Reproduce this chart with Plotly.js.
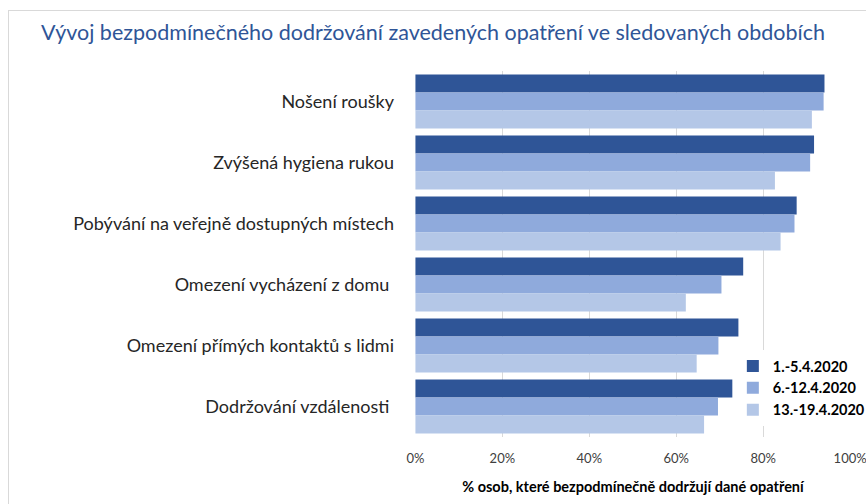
<!DOCTYPE html>
<html><head><meta charset="utf-8">
<script src="https://cdn.plot.ly/plotly-3.0.1.min.js"></script>
<style>
html,body{margin:0;padding:0;background:#fff;}
#wrap{position:relative;width:866px;height:504px;}
#frame{position:absolute;left:8px;top:10px;width:870px;height:500px;border:1px solid #d9d9d9;pointer-events:none;}
#chart{position:absolute;left:0;top:0;width:866px;height:504px;}
</style></head>
<body><div id="wrap"><div id="chart"></div><div id="frame"></div></div>
<script>
const categories = ["Nošení roušky","Zvýšená hygiena rukou","Pobývání na veřejně dostupných místech","Omezení vycházení z domu ","Omezení přímých kontaktů s lidmi","Dodržování vzdálenosti "];
const seriesNames = ["1.-5.4.2020","6.-12.4.2020","13.-19.4.2020"];
const period1 = [0.941,0.917,0.877,0.754,0.743,0.729];
const period2 = [0.939,0.908,0.872,0.704,0.697,0.696];
const period3 = [0.912,0.827,0.840,0.622,0.647,0.664];
const tickVals = [0,0.2,0.4,0.6,0.8,1.0];
const tickText = ["0%","20%","40%","60%","80%","100%"];
const colors = ["#2F5597","#8FAADC","#B4C7E7"];
const values = [period1,period2,period3];
const traces = values.map((v,i)=>({type:"bar",orientation:"h",name:seriesNames[i],x:v,y:categories,marker:{color:colors[i]},hoverinfo:"skip"}));
const F = "Lato, sans-serif";
const layout = {
  width:866,height:504,
  paper_bgcolor:"rgba(0,0,0,0)",plot_bgcolor:"rgba(0,0,0,0)",
  margin:{l:415,r:15,t:71,b:67,autoexpand:false},
  barmode:"group",bargap:0.115,bargroupgap:0,
  title:{text:"Vývoj bezpodmínečného dodržování zavedených opatření ve sledovaných obdobích",x:0.5,xanchor:"center",y:0.935,yanchor:"middle",font:{family:F,size:21.5,color:"#2F5597"}},
  font:{family:F},
  xaxis:{range:[-0.001,1.002],tickvals:tickVals,ticktext:tickText,showgrid:true,gridcolor:"#D9D9D9",gridwidth:1,zeroline:false,showline:false,ticks:"",ticklabeloverflow:"allow",ticklabelstandoff:12,tickfont:{size:13,color:"#404040"},
    title:{text:"<b>% osob, které bezpodmínečně dodržují dané opatření</b>",font:{size:14.5,color:"#000"},standoff:16}},
  yaxis:{autorange:"reversed",showgrid:false,zeroline:false,showline:false,ticks:"",ticklabelstandoff:20,tickfont:{size:18,color:"#262626"}},
  legend:{x:0.729,xanchor:"left",y:0.03,yanchor:"bottom",bgcolor:"#fff",font:{size:14.5,color:"#000",weight:"bold"},itemwidth:30,tracegroupgap:0},
  showlegend:true
};
Plotly.newPlot("chart",traces,layout,{displayModeBar:false,staticPlot:true});
</script></body></html>
